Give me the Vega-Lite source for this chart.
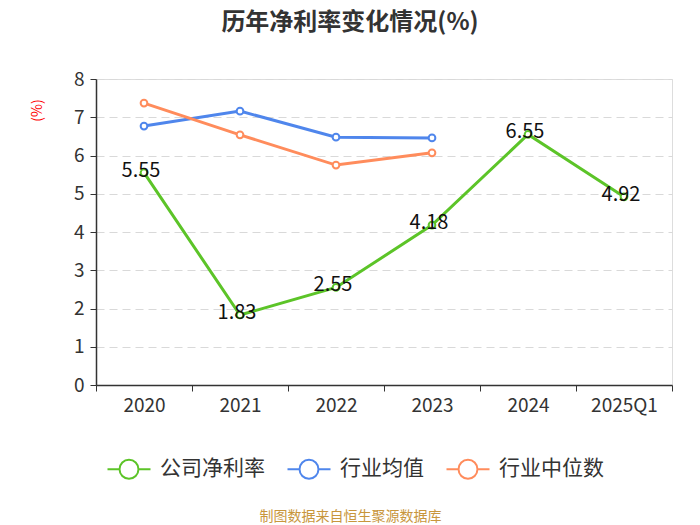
{
  "$schema": "https://vega.github.io/schema/vega-lite/v6.json",
  "autosize": "none",
  "width": 576,
  "height": 306,
  "padding": {"left": 96, "top": 79, "right": 28, "bottom": 140},
  "background": "white",
  "title": {
    "text": "历年净利率变化情况(%)",
    "fontSize": 24,
    "fontWeight": "bold",
    "color": "#333333",
    "font": "Noto Sans CJK SC",
    "anchor": "middle",
    "dx": -34,
    "offset": 35
  },
  "data": {
    "values": [
      {"year": "2020", "series": "公司净利率", "value": 5.55},
      {"year": "2021", "series": "公司净利率", "value": 1.83},
      {"year": "2022", "series": "公司净利率", "value": 2.55},
      {"year": "2023", "series": "公司净利率", "value": 4.18},
      {"year": "2024", "series": "公司净利率", "value": 6.55},
      {"year": "2025Q1", "series": "公司净利率", "value": 4.92},
      {"year": "2020", "series": "行业均值", "value": 6.77},
      {"year": "2021", "series": "行业均值", "value": 7.16},
      {"year": "2022", "series": "行业均值", "value": 6.48},
      {"year": "2023", "series": "行业均值", "value": 6.46},
      {"year": "2020", "series": "行业中位数", "value": 7.37},
      {"year": "2021", "series": "行业中位数", "value": 6.54},
      {"year": "2022", "series": "行业中位数", "value": 5.75},
      {"year": "2023", "series": "行业中位数", "value": 6.07}
    ]
  },
  "encoding": {
    "x": {
      "field": "year",
      "type": "ordinal",
      "bandPosition": 0.5,
      "scale": {"type": "band", "paddingInner": 0, "paddingOuter": 0, "domain": ["2020", "2021", "2022", "2023", "2024", "2025Q1"]},
      "axis": {
        "title": "制图数据来自恒生聚源数据库",
        "titleColor": "#c8963c",
        "titleFontSize": 14,
        "titleFontWeight": "normal",
        "titleFont": "Noto Sans CJK SC",
        "titleX": 254,
        "titleY": 124,
        "labelAngle": 0,
        "labelFontSize": 19,
        "labelColor": "#333333",
        "labelFont": "Noto Sans CJK SC",
        "labelPadding": 5,
        "tickBand": "extent",
        "tickSize": 6,
        "tickColor": "#333333",
        "domainColor": "#333333",
        "domainWidth": 1.5,
        "grid": false
      }
    },
    "y": {
      "field": "value",
      "type": "quantitative",
      "scale": {"domain": [0, 8], "nice": false},
      "axis": {
        "title": "(%)",
        "titleColor": "#ff0000",
        "titleFontSize": 14,
        "titleFontWeight": "normal",
        "titleFont": "Noto Sans CJK SC",
        "titleX": -52,
        "titleY": 31,
        "values": [0, 1, 2, 3, 4, 5, 6, 7, 8],
        "labelFontSize": 19,
        "labelColor": "#333333",
        "labelFont": "Noto Sans CJK SC",
        "labelPadding": 6,
        "tickSize": 6,
        "tickColor": "#333333",
        "domainColor": "#333333",
        "domainWidth": 1.5,
        "grid": true,
        "gridColor": "#d9d9d9",
        "gridDash": [8, 5],
        "gridWidth": 1
      }
    },
    "color": {
      "field": "series",
      "type": "nominal",
      "scale": {
        "domain": ["公司净利率", "行业均值", "行业中位数"],
        "range": ["#5cc428", "#4f86ec", "#ff8c5c"]
      },
      "legend": {
        "title": null,
        "orient": "none",
        "direction": "horizontal",
        "legendX": 10,
        "legendY": 367,
        "symbolType": "M-1,0H-0.44M0.44,0H1M-0.44,0A0.44,0.44 0 1,1 0.44,0A0.44,0.44 0 1,1 -0.44,0",
        "symbolSize": 1850,
        "symbolStrokeWidth": 2,
        "symbolFillColor": "white",
        "labelFontSize": 21,
        "labelColor": "#333333",
        "labelFont": "Noto Sans CJK SC",
        "labelOffset": 8,
        "columnPadding": 18
      }
    }
  },
  "layer": [
    {
      "mark": {"type": "line", "strokeWidth": 3, "point": {"filled": false, "fill": "white", "size": 45, "strokeWidth": 2, "opacity": 1}}
    },
    {
      "transform": [{"filter": "datum.series == '公司净利率'"}],
      "mark": {"type": "text", "fontSize": 20, "font": "Noto Sans CJK SC", "align": "center", "baseline": "middle", "dx": -3, "dy": -2},
      "encoding": {
        "text": {"field": "value", "type": "quantitative", "format": ".2f"},
        "color": {"value": "#111111"}
      }
    }
  ]
}
